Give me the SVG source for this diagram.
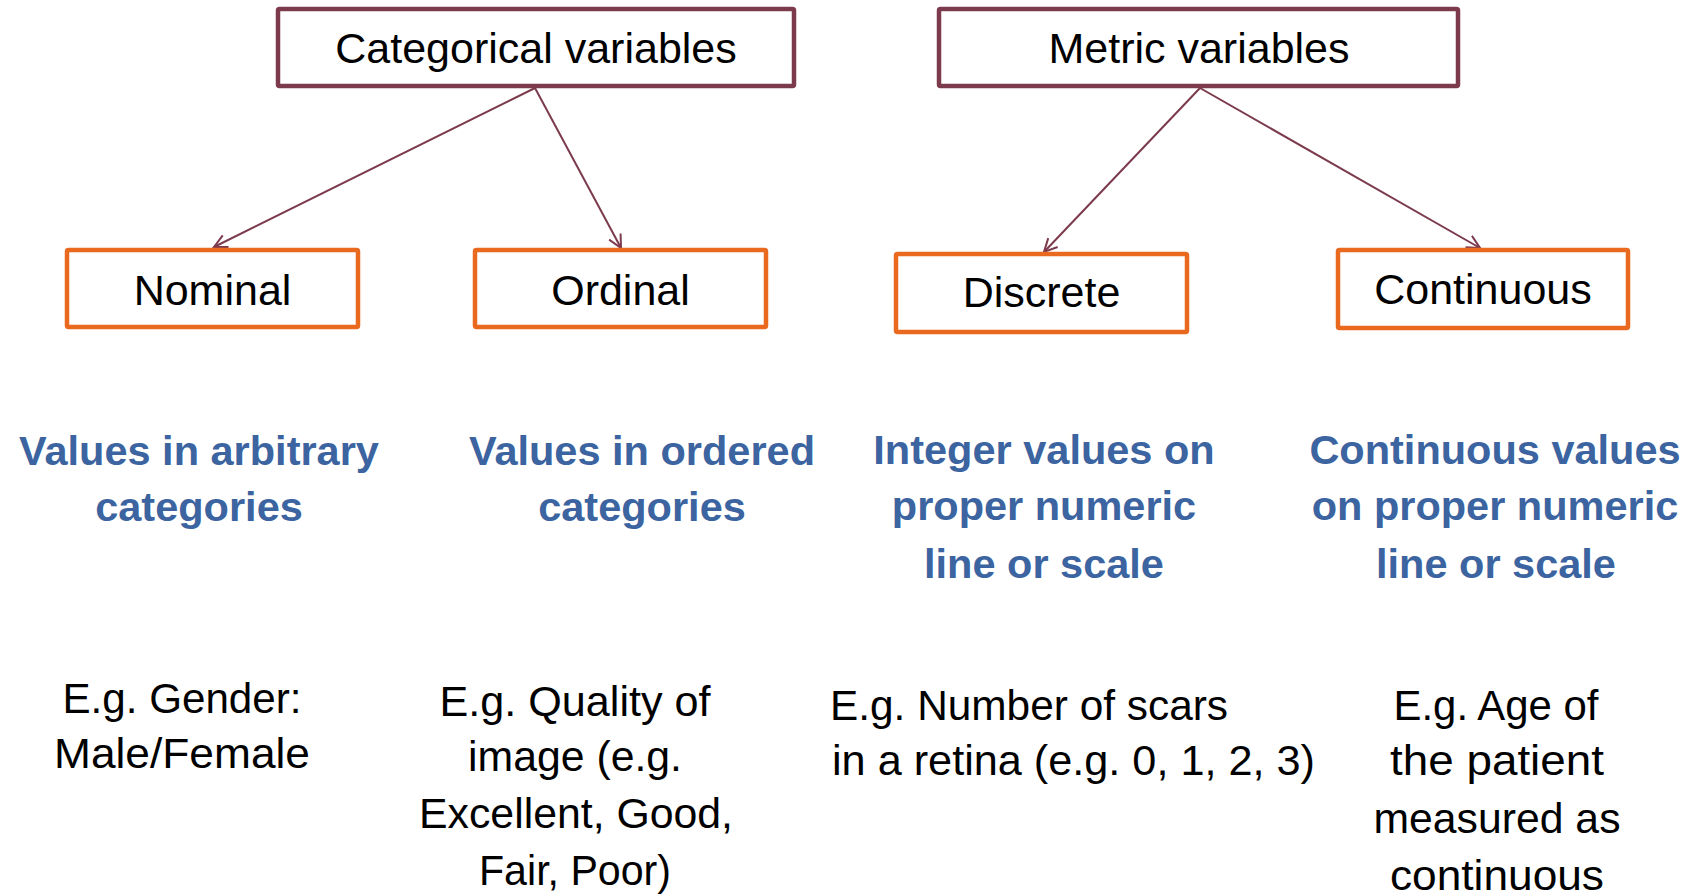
<svg xmlns="http://www.w3.org/2000/svg" width="1694" height="896" viewBox="0 0 1694 896">
<defs>
<style>
.top{fill:#fff;stroke:#7C3B4D;stroke-width:4.5}
.sub{fill:#fff;stroke:#E9691F;stroke-width:4.5}
.lbl{font-family:"Liberation Sans",Arial,sans-serif;font-size:43px;fill:#000;text-anchor:middle}
.desc{font-family:"Liberation Sans",Arial,sans-serif;font-size:41.5px;font-weight:bold;fill:#3B64A0;text-anchor:middle}
.ex{font-family:"Liberation Sans",Arial,sans-serif;font-size:42.5px;fill:#000;text-anchor:middle}
.con{stroke:#7C3B4D;stroke-width:2;fill:none}
</style>
<marker id="arr" viewBox="0 0 16 16" refX="14" refY="8" markerWidth="16" markerHeight="16" markerUnits="userSpaceOnUse" orient="auto">
<path d="M1,1.5 L14,8 L1,14.5" fill="none" stroke="#7C3B4D" stroke-width="2"/>
</marker>
</defs>
<rect width="1694" height="896" fill="#fff"/>
<g id="connectors">
<line class="con" x1="535" y1="88" x2="214" y2="247" marker-end="url(#arr)"/>
<line class="con" x1="535" y1="88" x2="621" y2="248" marker-end="url(#arr)"/>
<line class="con" x1="1200" y1="88" x2="1044" y2="252" marker-end="url(#arr)"/>
<line class="con" x1="1200" y1="88" x2="1480" y2="248" marker-end="url(#arr)"/>
</g>
<g id="categorical">
<rect class="top" x="278" y="9" width="516" height="77" rx="1.5"/>
<text class="lbl" x="536" y="63">Categorical variables</text>
</g>
<g id="metric">
<rect class="top" x="939" y="9" width="519" height="77" rx="1.5"/>
<text class="lbl" x="1199" y="63">Metric variables</text>
</g>
<g id="nominal">
<rect class="sub" x="67" y="250" width="291" height="77" rx="1.5"/>
<text class="lbl" x="212.5" y="305">Nominal</text>
</g>
<g id="ordinal">
<rect class="sub" x="475" y="250" width="291" height="77" rx="1.5"/>
<text class="lbl" x="620.5" y="305">Ordinal</text>
</g>
<g id="discrete">
<rect class="sub" x="896" y="254" width="291" height="78" rx="1.5"/>
<text class="lbl" x="1041.5" y="307">Discrete</text>
</g>
<g id="continuous">
<rect class="sub" x="1338" y="250" width="290" height="78" rx="1.5"/>
<text class="lbl" x="1483" y="304">Continuous</text>
</g>
<g id="desc-nominal">
<text class="desc" x="199" y="465">Values in arbitrary</text>
<text class="desc" x="199" y="521">categories</text>
</g>
<g id="desc-ordinal">
<text class="desc" x="642" y="465">Values in ordered</text>
<text class="desc" x="642" y="521">categories</text>
</g>
<g id="desc-discrete">
<text class="desc" x="1044" y="464">Integer values on</text>
<text class="desc" x="1044" y="520">proper numeric</text>
<text class="desc" x="1044" y="578">line or scale</text>
</g>
<g id="desc-continuous">
<text class="desc" x="1495" y="464">Continuous values</text>
<text class="desc" x="1495" y="520">on proper numeric</text>
<text class="desc" x="1496" y="578">line or scale</text>
</g>
<g id="ex-nominal">
<text class="ex" x="182" y="713" textLength="239" lengthAdjust="spacingAndGlyphs">E.g. Gender:</text>
<text class="ex" x="182" y="768" textLength="256" lengthAdjust="spacingAndGlyphs">Male/Female</text>
</g>
<g id="ex-ordinal">
<text class="ex" x="575" y="716" textLength="271" lengthAdjust="spacingAndGlyphs">E.g. Quality of</text>
<text class="ex" x="575" y="771" textLength="214" lengthAdjust="spacingAndGlyphs">image (e.g.</text>
<text class="ex" x="576" y="828" textLength="314" lengthAdjust="spacingAndGlyphs">Excellent, Good,</text>
<text class="ex" x="575" y="885" textLength="192" lengthAdjust="spacingAndGlyphs">Fair, Poor)</text>
</g>
<g id="ex-discrete">
<text class="ex" x="830" y="720" style="text-anchor:start" textLength="398" lengthAdjust="spacingAndGlyphs">E.g. Number of scars</text>
<text class="ex" x="832" y="775" style="text-anchor:start" textLength="483" lengthAdjust="spacingAndGlyphs">in a retina (e.g. 0, 1, 2, 3)</text>
</g>
<g id="ex-continuous">
<text class="ex" x="1496" y="720" textLength="205" lengthAdjust="spacingAndGlyphs">E.g. Age of</text>
<text class="ex" x="1497" y="775" textLength="214" lengthAdjust="spacingAndGlyphs">the patient</text>
<text class="ex" x="1497" y="833" textLength="247" lengthAdjust="spacingAndGlyphs">measured as</text>
<text class="ex" x="1497" y="890" textLength="214" lengthAdjust="spacingAndGlyphs">continuous</text>
</g>
</svg>
